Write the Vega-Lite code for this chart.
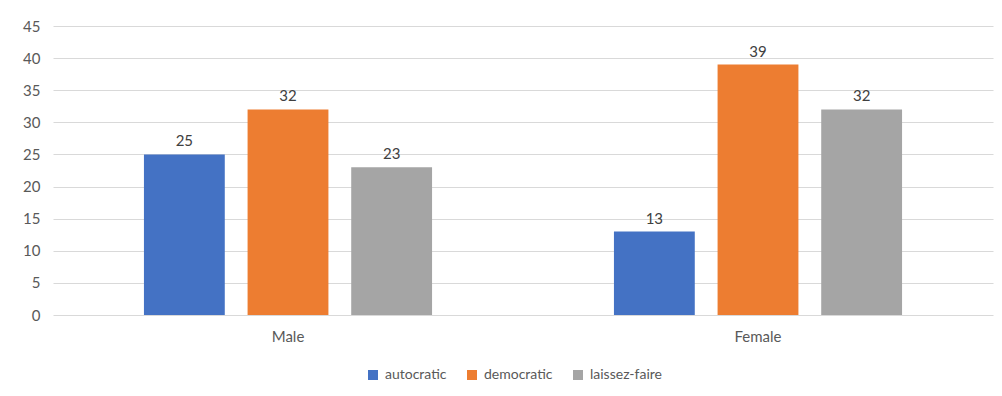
{
  "$schema": "https://vega.github.io/schema/vega-lite/v6.json",
  "width": 940,
  "height": 289,
  "autosize": {"type": "none"},
  "padding": {"left": 53, "top": 26, "right": 9, "bottom": 81},
  "background": "white",
  "config": {
    "view": {"stroke": null},
    "font": "Lato",
    "axis": {"labelFont": "Lato", "labelColor": "#595959", "labelFontSize": 15},
    "legend": {"labelFont": "Lato", "labelColor": "#595959", "labelFontSize": 14}
  },
  "data": {
    "values": [
      {"gender": "Male", "style": "autocratic", "count": 25},
      {"gender": "Male", "style": "democratic", "count": 32},
      {"gender": "Male", "style": "laissez-faire", "count": 23},
      {"gender": "Female", "style": "autocratic", "count": 13},
      {"gender": "Female", "style": "democratic", "count": 39},
      {"gender": "Female", "style": "laissez-faire", "count": 32}
    ]
  },
  "encoding": {
    "x": {
      "field": "gender",
      "type": "nominal",
      "sort": ["Male", "Female"],
      "scale": {"paddingInner": 0.387, "paddingOuter": 0.1935},
      "axis": {"title": null, "labelAngle": 0, "ticks": false, "domain": false, "labelPadding": 14}
    },
    "xOffset": {
      "field": "style",
      "type": "nominal",
      "sort": ["autocratic", "democratic", "laissez-faire"],
      "scale": {"paddingInner": 0.22, "paddingOuter": 0}
    },
    "y": {
      "field": "count",
      "type": "quantitative",
      "scale": {"domain": [0, 45], "nice": false},
      "axis": {
        "title": null,
        "values": [0, 5, 10, 15, 20, 25, 30, 35, 40, 45],
        "domain": false,
        "ticks": false,
        "labelPadding": 13,
        "gridColor": "#D9D9D9",
        "gridWidth": 1
      }
    }
  },
  "layer": [
    {
      "mark": {"type": "bar"},
      "encoding": {
        "color": {
          "field": "style",
          "type": "nominal",
          "sort": ["autocratic", "democratic", "laissez-faire"],
          "scale": {"range": ["#4472C4", "#ED7D31", "#A5A5A5"]},
          "legend": {
            "title": null,
            "orient": "none",
            "direction": "horizontal",
            "legendX": 313,
            "legendY": 342,
            "symbolType": "square",
            "symbolSize": 100,
            "symbolStrokeWidth": 0,
            "columnPadding": 18,
            "labelOffset": 5
          }
        }
      }
    },
    {
      "mark": {"type": "text", "baseline": "bottom", "dy": -5, "fontSize": 15, "color": "#404040", "font": "Lato"},
      "encoding": {"text": {"field": "count", "type": "quantitative"}}
    }
  ]
}
